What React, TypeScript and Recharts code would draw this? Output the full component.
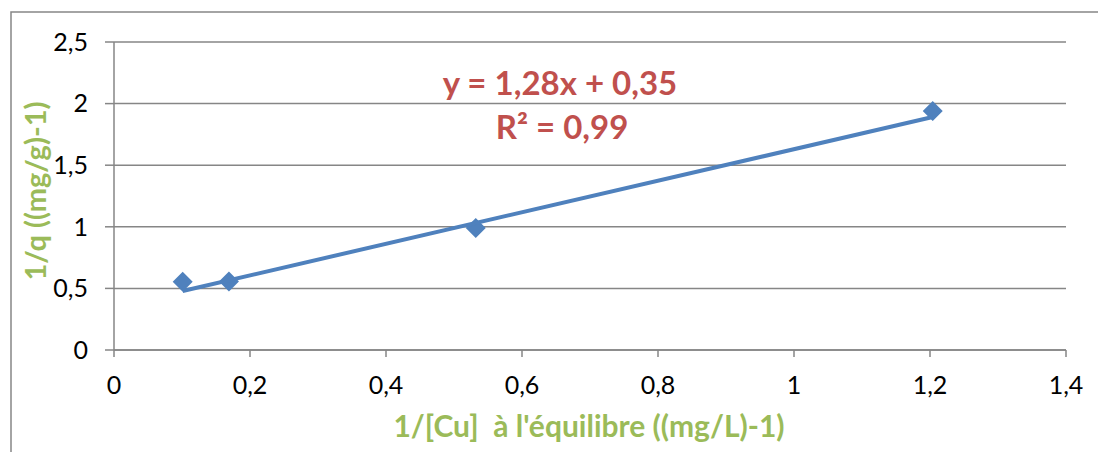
import React from 'react';
import {
  ScatterChart,
  Scatter,
  XAxis,
  YAxis,
  CartesianGrid,
} from 'recharts';

// measured points
const xValues = [0.101, 0.169, 0.532, 1.204];
const yValues = [0.554, 0.556, 0.99, 1.94];

// linear trendline endpoints (y = 1,28x + 0,35)
const trendX = [0.101, 1.204];
const trendY = [0.479, 1.891];

const xTicks = [0, 0.2, 0.4, 0.6, 0.8, 1, 1.2, 1.4];
const yTicks = [0, 0.5, 1, 1.5, 2, 2.5];

const equationText = 'y = 1,28x + 0,35';
const r2Text = 'R² = 0,99';
const xTitle = "1/[Cu]\u00a0 à l'équilibre ((mg/L)-1)";
const yTitle = '1/q ((mg/g)-1)';

const BLUE = '#4F81BD';
const RED = '#C0504D';
const GREEN = '#9BBB59';
const GRID = '#868686';
const FONT = 'Lato, "Open Sans", sans-serif';

const points = xValues.map((x, i) => ({ x, y: yValues[i] }));
const trend = trendX.map((x, i) => ({ x, y: trendY[i] }));

const fmt = (v: number) => String(v).replace('.', ',');

// Excel style diamond marker
const Diamond = (props: any) => {
  const { cx, cy } = props;
  const r = 10;
  return (
    <polygon
      points={`${cx},${cy - r} ${cx + r},${cy} ${cx},${cy + r} ${cx - r},${cy}`}
      fill={BLUE}
    />
  );
};

const NoShape = () => null;

export default function App() {
  return (
    <div style={{ position: 'absolute', left: 0, top: 0, width: 1098, height: 452, background: '#fff' }}>
      <ScatterChart
        width={1098}
        height={452}
        margin={{ top: 42, right: 32, bottom: 0, left: 0 }}
      >
        <CartesianGrid vertical={false} stroke={GRID} strokeWidth={1.5} />
        <XAxis
          type="number"
          dataKey="x"
          domain={[0, 1.4]}
          ticks={xTicks}
          tickFormatter={fmt}
          height={102}
          stroke={GRID}
          strokeWidth={1.5}
          tickSize={7}
          tickMargin={19}
          tick={{ fill: '#000', fontSize: 25, fontFamily: FONT }}
          interval={0}
        />
        <YAxis
          type="number"
          dataKey="y"
          domain={[0, 2.5]}
          ticks={yTicks}
          tickFormatter={fmt}
          width={114}
          stroke={GRID}
          strokeWidth={1.5}
          tickSize={9}
          tickMargin={17}
          tick={{ fill: '#000', fontSize: 25, fontFamily: FONT }}
          interval={0}
        />
        <Scatter data={points} shape={<Diamond />} isAnimationActive={false} />
        <Scatter
          data={trend}
          line={{ stroke: BLUE, strokeWidth: 4 }}
          lineType="joint"
          shape={<NoShape />}
          isAnimationActive={false}
        />
      </ScatterChart>
      <svg
        width={1098}
        height={452}
        style={{ position: 'absolute', left: 0, top: 0, pointerEvents: 'none' }}
      >
        <rect x={11} y={12} width={1200} height={600} fill="none" stroke={GRID} strokeWidth={1.5} />
        <text x={560} y={95} textAnchor="middle" fill={RED} fontFamily={FONT} fontWeight="bold" fontSize={33}>
          {equationText}
        </text>
        <text x={562} y={139} textAnchor="middle" fill={RED} fontFamily={FONT} fontWeight="bold" fontSize={33}>
          {r2Text}
        </text>
        <text x={589} y={437} textAnchor="middle" fill={GREEN} fontFamily={FONT} fontWeight="bold" fontSize={30}>
          {xTitle}
        </text>
        <text
          x={46}
          y={191}
          textAnchor="middle"
          transform="rotate(-90, 46, 191)"
          fill={GREEN}
          fontFamily={FONT}
          fontWeight="bold"
          fontSize={29}
        >
          {yTitle}
        </text>
      </svg>
    </div>
  );
}
